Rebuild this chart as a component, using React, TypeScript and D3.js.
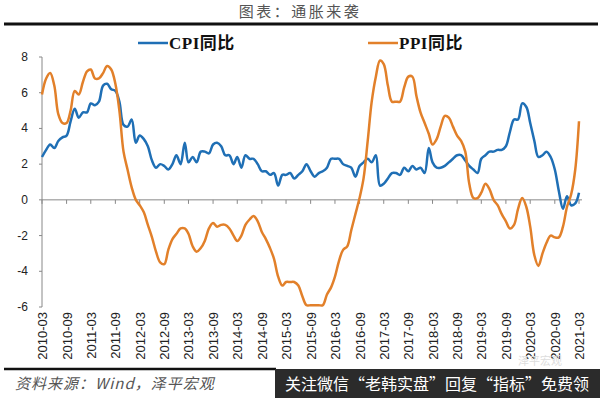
import * as d3 from "d3"

const startMonth = "2010-03"
const cpi = [
  2.4, 2.8, 3.1, 2.9, 3.3, 3.5, 3.6, 4.4, 5.1, 4.6,
  4.9, 4.9, 5.4, 5.3, 5.5, 6.4, 6.5, 6.2, 6.1, 5.5, 4.2, 4.1,
  4.5, 3.2, 3.6, 3.4, 3.0, 2.2, 1.8, 2.0, 1.9, 1.7, 2.0, 2.5,
  2.0, 3.2, 2.1, 2.4, 2.1, 2.7, 2.7, 2.6, 3.1, 3.2, 3.0, 2.5,
  2.5, 2.0, 2.4, 1.8, 2.5, 2.3, 2.3, 2.0, 1.6, 1.6, 1.4, 1.5,
  0.8, 1.4, 1.4, 1.5, 1.2, 1.4, 1.6, 2.0, 1.6, 1.3, 1.5, 1.6,
  1.8, 2.3, 2.3, 2.3, 2.0, 1.9, 1.8, 1.3, 1.9, 2.1, 2.3, 2.1,
  2.5, 0.8, 0.9, 1.2, 1.5, 1.5, 1.4, 1.8, 1.6, 1.9, 1.7, 1.8,
  1.5, 2.9, 2.1, 1.8, 1.8, 1.9, 2.1, 2.3, 2.5, 2.5, 2.2, 1.9,
  1.7, 1.5, 2.3, 2.5, 2.7, 2.7, 2.8, 2.8, 3.0, 3.8, 4.5, 4.5,
  5.4, 5.2, 4.3, 3.3, 2.4, 2.5, 2.7, 2.4, 1.7, 0.5, -0.5, 0.2,
  -0.3, -0.2, 0.4,
]
const ppi = [
  5.9, 6.8, 7.1, 6.4, 4.8, 4.3, 4.3, 5.0, 6.1, 5.9,
  6.6, 7.2, 7.3, 6.8, 6.8, 7.1, 7.5, 7.3, 6.5, 5.0, 2.7, 1.7,
  0.7, 0.0, -0.3, -0.7, -1.4, -2.1, -2.9, -3.5, -3.6, -2.8, -2.2, -1.9,
  -1.6, -1.6, -1.9, -2.6, -2.9, -2.7, -2.3, -1.6, -1.3, -1.5, -1.4, -1.4,
  -1.6, -2.0, -2.3, -2.0, -1.4, -1.1, -0.9, -1.2, -1.8, -2.2, -2.7, -3.3,
  -4.3, -4.8, -4.6, -4.6, -4.6, -4.8, -5.4, -5.9, -5.9, -5.9, -5.9, -5.9,
  -5.3, -4.9, -4.3, -3.4, -2.8, -2.6, -1.7, -0.8, 0.1, 1.2, 3.3, 5.5,
  6.9, 7.8, 7.6, 6.4, 5.5, 5.5, 5.5, 6.3, 6.9, 6.9, 5.8, 4.9,
  4.3, 3.7, 3.1, 3.4, 4.1, 4.7, 4.6, 4.1, 3.6, 3.3, 2.7, 0.9,
  0.1, 0.1, 0.4, 0.9, 0.6, 0.0, -0.3, -0.8, -1.2, -1.6, -1.4, -0.5,
  0.1, -0.4, -1.5, -3.1, -3.7, -3.0, -2.4, -2.0, -2.1, -2.1, -1.5, -0.4,
  0.3, 1.7, 4.4,
]
const yTicks = [-6, -4, -2, 0, 2, 4, 6, 8]
const seriesNames = ["CPI同比", "PPI同比"]
const seriesColors = ["#1f6fb5", "#e2802a"]

const parseMonth = d3.timeParse("%Y-%m")
const fmtMonth = d3.timeFormat("%Y-%m")

export default function App() {
  const W = 600
  const H = 398
  const start = parseMonth(startMonth) as Date
  const dates = cpi.map((_, i) => d3.timeMonth.offset(start, i))

  const x = d3.scaleTime().domain([dates[0], dates[dates.length - 1]]).range([42, 579])
  const y = d3.scaleLinear().domain([-6, 8]).range([307, 57])

  const xTicks = dates.filter((_, i) => i % 6 === 0)

  const line = d3
    .line<number>()
    .x((_, i) => x(dates[i]))
    .y((d) => y(d))
    .curve(d3.curveCatmullRom.alpha(0.5))

  const series = [cpi, ppi]

  return (
    <svg
      width={W}
      height={H}
      style={{ position: "absolute", left: 0, top: 0, background: "#fff" }}
    >
      {/* header */}
      <text
        x={300}
        y={17}
        textAnchor="middle"
        fontFamily="'Noto Sans CJK SC', sans-serif"
        fontSize={15}
        letterSpacing={2.5}
        fill="#555"
      >
        图表：通胀来袭
      </text>
      <line x1={4} x2={598} y1={24} y2={24} stroke="#111" strokeWidth={3} />

      {/* legend */}
      {seriesNames.map((name, i) => {
        const lx = i === 0 ? 138 : 368
        return (
          <g key={name}>
            <line x1={lx} x2={lx + 30} y1={43} y2={43} stroke={seriesColors[i]} strokeWidth={2.5} />
            <text
              x={lx + 31}
              y={49}
              fontFamily="'Liberation Serif', 'Noto Sans CJK SC', serif"
              fontWeight="bold"
              fontSize={17}
              letterSpacing={0.5}
              fill="#111"
            >
              {name}
            </text>
          </g>
        )
      })}

      {/* y axis */}
      <line x1={42} x2={42} y1={y(8)} y2={y(-6)} stroke="#888" />
      {yTicks.map((t) => (
        <g key={t}>
          <line x1={39} x2={42} y1={y(t)} y2={y(t)} stroke="#888" />
          <text
            x={28}
            y={y(t) + 4}
            textAnchor="end"
            fontFamily="'Liberation Sans', sans-serif"
            fontSize={12}
            fill="#222"
          >
            {t}
          </text>
        </g>
      ))}

      {/* x axis at zero */}
      <line x1={42} x2={582} y1={y(0)} y2={y(0)} stroke="#888" />
      {xTicks.map((d) => (
        <line key={+d} x1={x(d)} x2={x(d)} y1={y(0)} y2={y(0) + 4} stroke="#888" />
      ))}
      {xTicks.map((d) => (
        <text
          key={"l" + +d}
          transform={`translate(${x(d) + 5},312) rotate(-90)`}
          textAnchor="end"
          fontFamily="'Liberation Sans', sans-serif"
          fontSize={13}
          fill="#222"
        >
          {fmtMonth(d)}
        </text>
      ))}

      {/* lines */}
      {series.map((s, i) => (
        <path
          key={i}
          d={line(s) ?? ""}
          fill="none"
          stroke={seriesColors[i]}
          strokeWidth={2.5}
          strokeLinejoin="round"
        />
      ))}

      {/* footer */}
      <line x1={4} x2={276} y1={369} y2={369} stroke="#111" strokeWidth={2.5} />
      <text
        x={15}
        y={389}
        fontFamily="'Noto Sans CJK SC', sans-serif"
        fontStyle="italic"
        fontSize={15}
        letterSpacing={1}
        fill="#555"
      >
        资料来源：Wind，泽平宏观
      </text>
      <text
        x={540}
        y={365}
        textAnchor="middle"
        fontFamily="'Noto Sans CJK SC', sans-serif"
        fontSize={11}
        fill="#ddd"
      >
        泽平宏观
      </text>
      <rect x={275} y={369} width={325} height={29} fill="#2b2b2b" />
      <text
        x={285}
        y={390}
        fontFamily="'Noto Sans CJK SC', sans-serif"
        fontSize={16}
        fill="#fff"
      >
        关注微信“老韩实盘”回复“指标”免费领
      </text>
    </svg>
  )
}
